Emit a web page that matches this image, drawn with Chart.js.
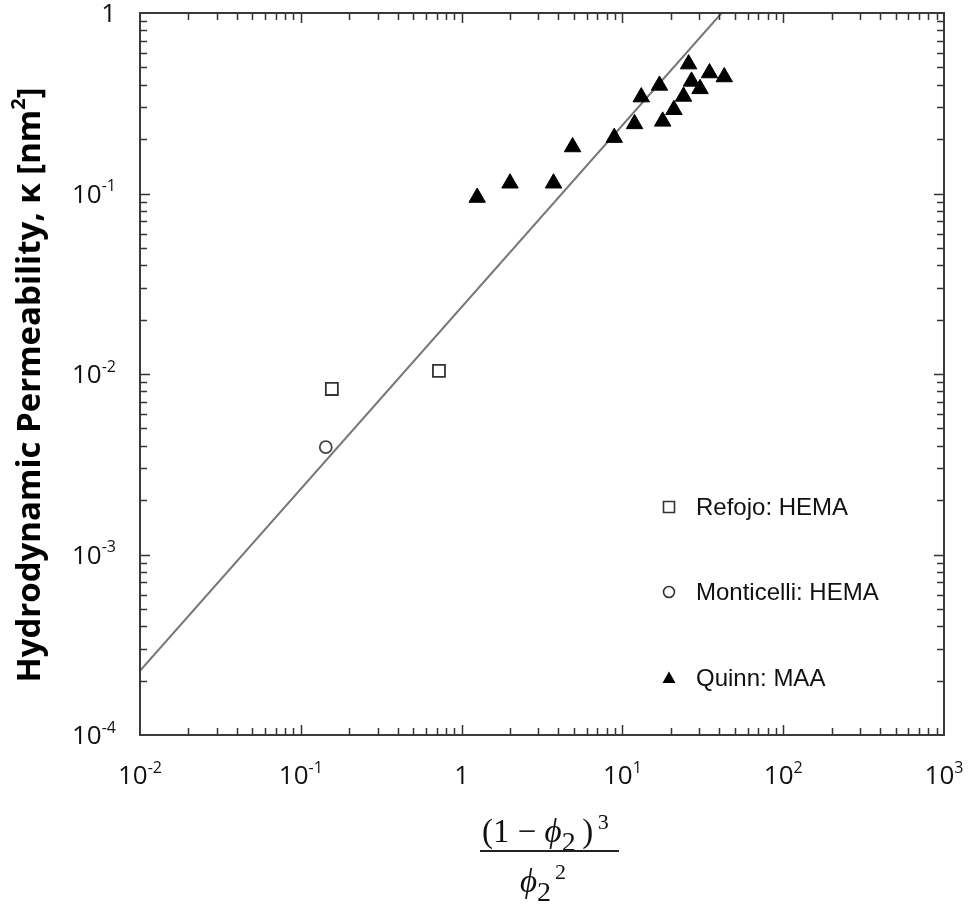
<!DOCTYPE html>
<html>
<head>
<meta charset="utf-8">
<script src="https://cdn.jsdelivr.net/npm/chart.js@4.4.1/dist/chart.umd.min.js"></script>
<style>
  body { margin: 0; background: #fff; }
  #wrap { position: relative; width: 972px; height: 907px; }
  #c { position: absolute; left: 0; top: 0; }
  .frac { position: absolute; font-family: 'Liberation Serif', 'DejaVu Serif', serif; font-size: 33px; color: #111; line-height: 1; white-space: nowrap; }
  .frac i { font-style: italic; }
  .frac sub { font-size: 28px; vertical-align: -9px; }
  .frac sup { font-size: 22px; vertical-align: 13px; }
</style>
</head>
<body>
<div id="wrap">
  <canvas id="c" width="972" height="907"></canvas>
  <div class="frac" id="num" style="left:482px; top:811px;">(1 − <i>ϕ</i><sub>2</sub>&thinsp;)<sup>&thinsp;3</sup></div>
  <div id="bar" style="position:absolute; left:480px; top:850px; width:139px; height:0; border-top:2px solid #222;"></div>
  <div class="frac" id="den" style="left:520px; top:861px;"><i>ϕ</i><sub>2</sub><sup style="margin-left:4px">2</sup></div>
</div>
<script>
'use strict';

// series
let refojoX = [0.156, 0.723];
let refojoY = [0.00826, 0.0104];

let monticelliX = [0.143];
let monticelliY = [0.00393];

let quinnX = [1.25, 2.0, 3.73, 4.9, 8.9, 11.9, 13.1, 17.0, 17.8, 20.9, 24.0, 25.8, 26.9, 30.4, 34.8, 43.0];
let quinnY = [0.095, 0.114, 0.114, 0.181, 0.204, 0.243, 0.342, 0.397, 0.251, 0.291, 0.345, 0.521, 0.418, 0.380, 0.465, 0.442];

// fitted line, two ends
let fitX = [0.01, 41.4];
let fitY = [0.000227, 1];

// ticks
let xTicks = [0.01, 0.1, 1, 10, 100, 1000];
let xTickExp = ['-2', '-1', '', '1', '2', '3'];
let yTicks = [0.0001, 0.001, 0.01, 0.1, 1];
let yTickExp = ['-4', '-3', '-2', '-1', ''];

let legendNames = ['Refojo: HEMA', 'Monticelli: HEMA', 'Quinn: MAA'];

function pts(xs, ys) {
  let out = [];
  for (let i = 0; i < xs.length; i++) {
    out.push({ x: xs[i], y: ys[i] });
  }
  return out;
}

const tickFont = "'Open Sans', 'DejaVu Sans', sans-serif";

function drawTickLabel(ctx, x, y, exp, align) {
  ctx.font = '26px ' + tickFont;
  let baseW = ctx.measureText(exp ? '10' : '1').width;
  ctx.font = '16px ' + tickFont;
  let expW = exp ? ctx.measureText(exp).width : 0;
  let total = baseW + expW;
  let left = align === 'right' ? x - total : x - total / 2;
  ctx.textAlign = 'left';
  ctx.textBaseline = 'middle';
  ctx.font = '26px ' + tickFont;
  ctx.fillText(exp ? '10' : '1', left, y);
  if (exp) {
    ctx.font = '16px ' + tickFont;
    ctx.fillText(exp, left + baseW, y - 9);
  }
}

const framePlugin = {
  id: 'frame',
  afterDraw(chart) {
    const ctx = chart.ctx;
    const a = chart.chartArea;
    const xs = chart.scales.x;
    const ys = chart.scales.y;
    ctx.save();

    // minor and major ticks, inward, all four sides
    ctx.strokeStyle = '#333';
    ctx.lineWidth = 1.5;
    ctx.beginPath();
    for (let d = -2; d < 3; d++) {
      for (let m = 1; m < 10; m++) {
        if (m === 1 && d === -2) continue;
        let px = Math.round(xs.getPixelForValue(m * Math.pow(10, d))) + 0.5;
        let len = m === 1 ? 10 : 7;
        ctx.moveTo(px, a.bottom); ctx.lineTo(px, a.bottom - len);
        ctx.moveTo(px, a.top); ctx.lineTo(px, a.top + len);
      }
    }
    for (let d = -4; d < 0; d++) {
      for (let m = 1; m < 10; m++) {
        if (m === 1 && d === -4) continue;
        let py = Math.round(ys.getPixelForValue(m * Math.pow(10, d))) + 0.5;
        let len = m === 1 ? 10 : 7;
        ctx.moveTo(a.left, py); ctx.lineTo(a.left + len, py);
        ctx.moveTo(a.right, py); ctx.lineTo(a.right - len, py);
      }
    }
    ctx.stroke();

    ctx.lineWidth = 2;
    ctx.strokeStyle = '#3a3a3a';
    ctx.strokeRect(a.left, a.top, a.right - a.left, a.bottom - a.top);

    // tick labels
    ctx.fillStyle = '#111';
    for (let i = 0; i < xTicks.length; i++) {
      drawTickLabel(ctx, xs.getPixelForValue(xTicks[i]), a.bottom + 42, xTickExp[i], 'center');
    }
    for (let i = 0; i < yTicks.length; i++) {
      drawTickLabel(ctx, a.left - 24, ys.getPixelForValue(yTicks[i]) + 2, yTickExp[i], 'right');
    }

    // y title
    ctx.save();
    ctx.translate(31, (a.top + a.bottom) / 2 + 11);
    ctx.rotate(-Math.PI / 2);
    ctx.fillStyle = '#000';
    ctx.textBaseline = 'middle';
    ctx.font = 'bold 33px ' + tickFont;
    let t1 = 'Hydrodynamic Permeability, \u03ba [nm';
    let w1 = ctx.measureText(t1).width;
    ctx.font = 'bold 20px ' + tickFont;
    let w2 = ctx.measureText('2').width;
    ctx.font = 'bold 33px ' + tickFont;
    let w3 = ctx.measureText(']').width;
    let start = -(w1 + w2 + w3) / 2;
    ctx.textAlign = 'left';
    ctx.fillText(t1, start, 0);
    ctx.font = 'bold 20px ' + tickFont;
    ctx.fillText('2', start + w1, -12);
    ctx.font = 'bold 33px ' + tickFont;
    ctx.fillText(']', start + w1 + w2, 0);
    ctx.restore();

    // legend inside the plot
    let lx = 669;
    let rows = [507, 592, 678];
    ctx.font = "24px 'Liberation Sans', Arial, sans-serif";
    ctx.textAlign = 'left';
    ctx.textBaseline = 'middle';
    for (let i = 0; i < legendNames.length; i++) {
      let ly = rows[i];
      ctx.strokeStyle = '#333';
      ctx.fillStyle = '#000';
      ctx.lineWidth = 1.6;
      ctx.beginPath();
      if (i === 0) {
        ctx.rect(lx - 5.5, ly - 5.5, 11, 11);
        ctx.stroke();
      } else if (i === 1) {
        ctx.arc(lx, ly, 5.5, 0, Math.PI * 2);
        ctx.stroke();
      } else {
        ctx.moveTo(lx, ly - 6.5);
        ctx.lineTo(lx + 6.5, ly + 5);
        ctx.lineTo(lx - 6.5, ly + 5);
        ctx.closePath();
        ctx.fill();
      }
      ctx.fillStyle = '#111';
      ctx.fillText(legendNames[i], 696, ly + 1);
    }
    ctx.restore();
  }
};

new Chart(document.getElementById('c'), {
  type: 'scatter',
  data: {
    datasets: [
      {
        label: 'fit',
        type: 'line',
        data: pts(fitX, fitY),
        borderColor: '#777',
        borderWidth: 2,
        pointRadius: 0,
        fill: false,
        order: 3
      },
      {
        label: legendNames[0],
        data: pts(refojoX, refojoY),
        pointStyle: 'rect',
        pointRadius: 8.5,
        backgroundColor: 'rgba(255,255,255,0)',
        borderColor: '#333',
        borderWidth: 1.8
      },
      {
        label: legendNames[1],
        data: pts(monticelliX, monticelliY),
        pointStyle: 'circle',
        pointRadius: 6,
        backgroundColor: 'rgba(255,255,255,0)',
        borderColor: '#444',
        borderWidth: 1.8
      },
      {
        label: legendNames[2],
        data: pts(quinnX, quinnY),
        pointStyle: 'triangle',
        pointRadius: 9.5,
        backgroundColor: '#000',
        borderColor: '#000',
        borderWidth: 1
      }
    ]
  },
  options: {
    responsive: false,
    animation: false,
    devicePixelRatio: 1,
    layout: { padding: { left: 140, right: 28, top: 13, bottom: 172 } },
    plugins: {
      legend: { display: false },
      tooltip: { enabled: false }
    },
    scales: {
      x: { type: 'logarithmic', min: 0.01, max: 1000, display: false },
      y: { type: 'logarithmic', min: 0.0001, max: 1, display: false }
    }
  },
  plugins: [framePlugin]
});
</script>
</body>
</html>
